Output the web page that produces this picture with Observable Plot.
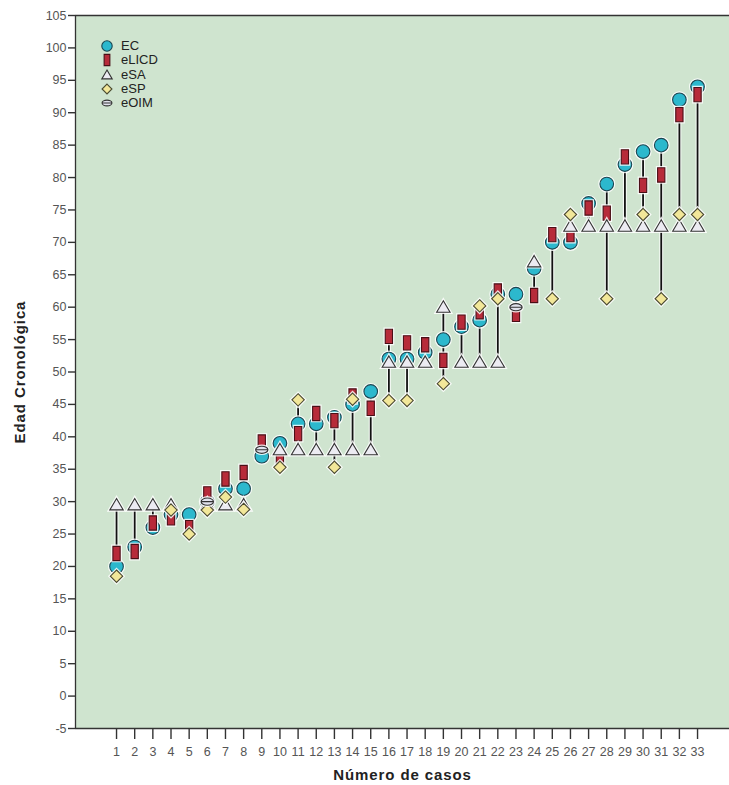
<!DOCTYPE html>
<html><head><meta charset="utf-8">
<script src="https://cdn.jsdelivr.net/npm/d3@7"></script>
<script src="https://cdn.jsdelivr.net/npm/@observablehq/plot@0.6"></script>
<style>
body{margin:0;background:#fff;font-family:"Liberation Sans",Arial,sans-serif;}
#wrap{position:relative;width:729px;height:785px;}
#legend{position:absolute;left:99px;top:39px;font-size:13px;color:#222;line-height:14.3px;}
.item{display:flex;align-items:center;height:14.3px;}
.item svg{width:16px;height:14px;margin-right:6px;overflow:visible;}
</style></head><body><div id="wrap"><div id="legend"></div></div>
<script>
// ---- data ----
const cases = d3.range(1, 34);
const EC    = [20, 23, 26, 28, 28, 30, 32, 32, 37, 39, 42, 42, 43, 45, 47, 52, 52, 53, 55, 57, 58, 62, 62, 66, 70, 70, 76, 79, 82, 84, 85, 92, 94];
const eLICD = [22, 22.3, 26.7, 27.5, 26, 31.2, 33.5, 34.5, 39.2, 37, 40.5, 43.6, 42.5, 46.3, 44.4, 55.5, 54.5, 54.2, 51.8, 57.7, 59.3, 62.5, 58.9, 61.8, 71.2, 71.2, 75.3, 74.5, 83.2, 78.8, 80.4, 89.7, 92.8];
const eSA   = [29.5, 29.5, 29.5, 29.5, null, 29.5, 29.5, 29.5, null, 38, 38, 38, 38, 38, 38, 51.5, 51.5, 51.5, 60, 51.5, 51.5, 51.5, null, 67, null, 72.5, 72.5, 72.5, 72.5, 72.5, 72.5, 72.5, 72.5];
const eSP   = [18.5, null, null, 28.7, 25, 28.7, 30.7, 28.8, null, 35.3, 45.7, null, 35.3, 45.8, null, 45.6, 45.6, null, 48.2, null, 60.2, 61.3, null, null, 61.3, 74.3, null, 61.3, null, 74.3, 61.3, 74.3, 74.3];
const eOIM  = [null, null, null, null, null, 30, null, null, 38, null, null, null, null, null, null, null, null, null, null, null, null, null, 60, null, null, null, null, null, null, null, null, null, null];
const seriesNames = ["EC", "eLICD", "eSA", "eSP", "eOIM"];
const yTicks = d3.range(-5, 106, 5);
const yDomain = [-5, 105];
const xDomain = [-1.26, 34.76];
const xTitle = "Número de casos";
const yTitle = "Edad Cronológica";

const seriesValues = {EC, eLICD, eSA, eSP, eOIM};
const rows = cases.map((c, i) => {
  const r = {case: c};
  seriesNames.forEach(s => r[s] = seriesValues[s][i]);
  const vals = seriesNames.map(s => r[s]).filter(v => v != null);
  r.lo = d3.min(vals); r.hi = d3.max(vals);
  return r;
});

// ---- symbols ----
function mk(fn){ return {draw(ctx, size){ const r = Math.sqrt(size / Math.PI); fn(ctx, r); }}; }
const symCircle = mk((c, r) => { c.moveTo(r, 0); c.arc(0, 0, r, 0, 2 * Math.PI); c.closePath(); });
const symRect = mk((c, r) => { const w = r * 0.55, h = r * 1.08; c.moveTo(-w, -h); c.lineTo(w, -h); c.lineTo(w, h); c.lineTo(-w, h); c.closePath(); });
const symTri = mk((c, r) => { c.moveTo(0, -r * 0.95); c.lineTo(r, r * 0.75); c.lineTo(-r, r * 0.75); c.closePath(); });
const symDia = mk((c, r) => { const d = r * 0.95; c.moveTo(0, -d); c.lineTo(d, 0); c.lineTo(0, d); c.lineTo(-d, 0); c.closePath(); });
const symEll = mk((c, r) => {
  const rx = r * 0.95, ry = r * 0.55, k = 0.5523;
  c.moveTo(rx, 0);
  c.bezierCurveTo(rx, -k * ry, k * rx, -ry, 0, -ry);
  c.bezierCurveTo(-k * rx, -ry, -rx, -k * ry, -rx, 0);
  c.bezierCurveTo(-rx, k * ry, -k * rx, ry, 0, ry);
  c.bezierCurveTo(k * rx, ry, rx, k * ry, rx, 0);
  c.closePath();
  c.moveTo(-rx, 0); c.lineTo(rx, 0);
});

const styles = {
  EC:    {symbol: symCircle, fill: "#2cb8cd", stroke: "#1b4650", r: 6.8},
  eLICD: {symbol: symRect,   fill: "#b72b3a", stroke: "#4a0f16", r: 6.6},
  eSA:   {symbol: symTri,    fill: "#ecebf2", stroke: "#333333", r: 6.7},
  eSP:   {symbol: symDia,    fill: "#f2e799", stroke: "#4a4a30", r: 6.5},
  eOIM:  {symbol: symEll,    fill: "#e2e3ee", stroke: "#333333", r: 6.5}
};

const dotMarks = [];
seriesNames.forEach(s => {
  const st = styles[s];
  dotMarks.push(Plot.dot(rows, {x: "case", y: s, symbol: st.symbol, r: st.r, fill: "white", stroke: "white", strokeWidth: 3.5, strokeOpacity: 0.85}));
  dotMarks.push(Plot.dot(rows, {x: "case", y: s, symbol: st.symbol, r: st.r, fill: st.fill, stroke: st.stroke, strokeWidth: 1.1}));
});

const chart = Plot.plot({
  width: 729, height: 785,
  marginLeft: 75, marginRight: 0, marginTop: 15, marginBottom: 57,
  style: {fontFamily: "'Liberation Sans', Arial, sans-serif", fontSize: "12px", color: "#333", background: "white"},
  x: {type: "linear", domain: xDomain, axis: null},
  y: {domain: yDomain, axis: null},
  marks: [
    Plot.frame({fill: "#cfe4cf", stroke: null}),
    Plot.ruleY(yDomain, {stroke: "#333", strokeWidth: 1.3}),
    Plot.ruleX([xDomain[0]], {stroke: "#333", strokeWidth: 1.3}),
    Plot.axisY({ticks: yTicks, tickSize: 7, tickPadding: 2, tickFormat: d => String(d), label: null, stroke: "#333", strokeWidth: 1.4, fontSize: 12.5, fill: "#555"}),
    Plot.axisX({ticks: cases, tickSize: 11, tickPadding: 8, tickFormat: d => String(d), label: null, stroke: "#333", strokeWidth: 1.4, fontSize: 12.5, fill: "#555"}),
    Plot.ruleX(rows, {x: "case", y1: "lo", y2: "hi", stroke: "white", strokeWidth: 4, strokeOpacity: 0.8}),
    Plot.ruleX(rows, {x: "case", y1: "lo", y2: "hi", stroke: "#111", strokeWidth: 1.8}),
    ...dotMarks,
    Plot.text([yTitle], {text: d => d, frameAnchor: "left", rotate: -90, dx: -55, textAnchor: "middle", lineAnchor: "middle", fontSize: 15, fontWeight: "bold", fill: "#222"}),
    Plot.text([xTitle], {text: d => d, frameAnchor: "bottom", dy: 47, textAnchor: "middle", lineAnchor: "middle", fontSize: 15, fontWeight: "bold", fill: "#222"})
  ]
});
document.getElementById("wrap").prepend(chart);
chart.querySelectorAll("text").forEach(t => { if (t.textContent === xTitle || t.textContent === yTitle) t.style.letterSpacing = "0.9px"; });

// ---- legend ----
const leg = document.getElementById("legend");
seriesNames.forEach(s => {
  const st = styles[s];
  const item = document.createElement("div");
  item.className = "item";
  const p = d3.path();
  st.symbol.draw(p, Math.PI * 5.2 * 5.2);
  item.innerHTML = `<svg viewBox="-8 -7 16 14"><path d="${p}" fill="${st.fill}" stroke="${st.stroke}" stroke-width="1.1"/></svg><span>${s}</span>`;
  leg.appendChild(item);
});
</script>
</body></html>
